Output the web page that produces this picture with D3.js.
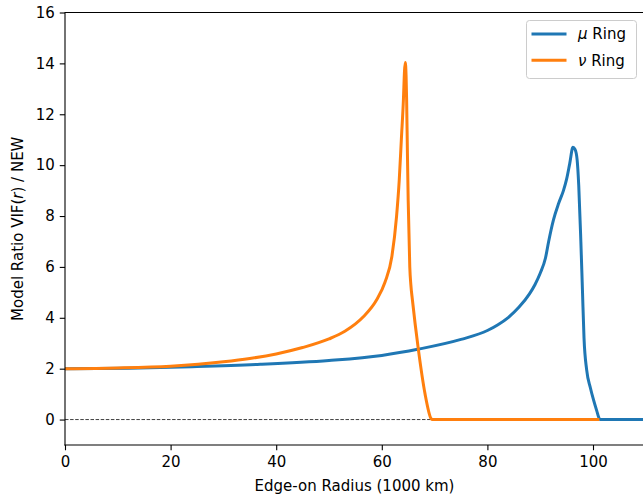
<!DOCTYPE html>
<html>
<head>
<meta charset="utf-8">
<script src="https://cdn.jsdelivr.net/npm/d3@7"></script>
<style>
  html, body { margin: 0; padding: 0; background: #fff; }
  svg { display: block; font-family: "DejaVu Sans", sans-serif; }
</style>
</head>
<body>
<svg id="chart" width="643" height="498"></svg>
<script>
// ---- data ----
const muX = [0, 12, 24, 37, 50, 60, 67, 75, 80, 82, 84, 86, 88, 89, 90, 91, 91.6, 92.5, 93.5, 94.4, 95.0, 95.6, 96.2, 96.6, 97.0, 97.3, 97.7, 98.0, 98.3, 98.8, 99.5, 100.1, 100.7, 101.2, 101.4, 110];
const muY = [2.0, 2.02, 2.08, 2.17, 2.32, 2.52, 2.77, 3.15, 3.5, 3.73, 4.02, 4.42, 4.95, 5.3, 5.75, 6.35, 7.0, 7.84, 8.5, 9.0, 9.45, 10.07, 10.7, 10.62, 10.2, 9.2, 7.0, 5.1, 3.2, 1.95, 1.25, 0.77, 0.35, 0.03, 0, 0];

const nuX = [0, 10, 20, 30, 35, 40, 45, 50, 53, 56.5, 59, 60.6, 61.9, 62.8, 63.3, 63.7, 64.1, 64.3, 64.45, 64.6, 64.7, 64.85, 65.0, 65.3, 65.5, 65.8, 66.9, 68.2, 69.3, 69.5, 101.2];
const nuY = [2.0, 2.03, 2.1, 2.27, 2.4, 2.58, 2.83, 3.17, 3.47, 4.04, 4.7, 5.4, 6.4, 8.0, 9.4, 11.0, 12.6, 13.7, 14.03, 13.5, 12.6, 10.5, 8.6, 6.0, 5.3, 4.7, 2.8, 1.0, 0.05, 0, 0];

const xTicks = [0, 20, 40, 60, 80, 100];
const yTicks = [0, 2, 4, 6, 8, 10, 12, 14, 16];
const seriesNames = ["μ", "ν"];

// ---- layout ----
const svg = d3.select("#chart");
const mLeft = 65, mTop = 12.5, pxPerX = 5.28;
const mBottom = 445;
const x = d3.scaleLinear().domain([0, 110]).range([mLeft, mLeft + 110 * pxPerX]);
const y = d3.scaleLinear().domain([-1, 16]).range([mBottom, mTop]);
const fs = 15;

// zero dashed line
svg.append("line")
  .attr("x1", x(0)).attr("x2", x(110))
  .attr("y1", y(0)).attr("y2", y(0))
  .attr("stroke", "#000").attr("stroke-width", 0.75)
  .attr("stroke-dasharray", "3.5,1.6");

// lines
const line = d3.line().x(d => x(d[0])).y(d => y(d[1])).curve(d3.curveMonotoneX);
const muData = muX.map((v, i) => [v, muY[i]]);
const nuData = nuX.map((v, i) => [v, nuY[i]]);
const colors = ["#1f77b4", "#ff7f0e"];
[muData, nuData].forEach((d, i) => {
  svg.append("path").datum(d)
    .attr("d", line)
    .attr("fill", "none")
    .attr("stroke", colors[i])
    .attr("stroke-width", 3)
    .attr("stroke-linejoin", "round")
    .attr("stroke-linecap", "butt");
});

// spines
svg.append("line").attr("x1", mLeft).attr("x2", mLeft).attr("y1", mTop).attr("y2", mBottom)
  .attr("stroke", "#000").attr("stroke-width", 1.1).attr("stroke-linecap", "square");
svg.append("line").attr("x1", mLeft).attr("x2", x(110)).attr("y1", mBottom).attr("y2", mBottom)
  .attr("stroke", "#000").attr("stroke-width", 1.1).attr("stroke-linecap", "square");
svg.append("line").attr("x1", mLeft).attr("x2", x(110)).attr("y1", mTop).attr("y2", mTop)
  .attr("stroke", "#000").attr("stroke-width", 1.1);

// axes
const xAxis = d3.axisBottom(x).tickValues(xTicks).tickSize(5.25).tickPadding(6).tickFormat(d3.format("d"));
const gx = svg.append("g").attr("transform", `translate(0,${mBottom})`).call(xAxis);
const yAxis = d3.axisLeft(y).tickValues(yTicks).tickSize(5.25).tickPadding(5).tickFormat(d3.format("d"));
const gy = svg.append("g").attr("transform", `translate(${mLeft},0)`).call(yAxis);
[gx, gy].forEach(g => {
  g.select(".domain").remove();
  g.selectAll(".tick line").attr("stroke", "#000").attr("stroke-width", 1.1);
  g.selectAll(".tick text").attr("fill", "#000").attr("font-size", fs).attr("font-family", "DejaVu Sans, sans-serif");
});

// axis labels
svg.append("text")
  .attr("x", 354.5).attr("y", 491)
  .attr("text-anchor", "middle").attr("font-size", fs).attr("fill", "#000")
  .text("Edge-on Radius (1000 km)");

const yl = svg.append("text")
  .attr("transform", `translate(22.5,${(mTop + mBottom) / 2}) rotate(-90)`)
  .attr("text-anchor", "middle").attr("font-size", fs).attr("fill", "#000");
yl.append("tspan").text("Model Ratio VIF(");
yl.append("tspan").attr("font-style", "italic").text("r");
yl.append("tspan").text(") / NEW");

// legend
const lg = svg.append("g");
lg.append("rect")
  .attr("x", 526.5).attr("y", 20.5).attr("width", 110).attr("height", 58)
  .attr("rx", 3).attr("ry", 3)
  .attr("fill", "#fff").attr("fill-opacity", 0.8)
  .attr("stroke", "#cccccc").attr("stroke-width", 1);
seriesNames.forEach((name, i) => {
  const yy = 34 + i * 26.3;
  lg.append("line").attr("x1", 531.5).attr("x2", 566.5).attr("y1", yy).attr("y2", yy)
    .attr("stroke", colors[i]).attr("stroke-width", 3);
  const t = lg.append("text").attr("x", 578).attr("y", yy + 5.3)
    .attr("font-size", fs).attr("fill", "#000");
  t.append("tspan").attr("font-style", "italic").text(name);
  t.append("tspan").text(" Ring");
});
</script>
</body>
</html>
